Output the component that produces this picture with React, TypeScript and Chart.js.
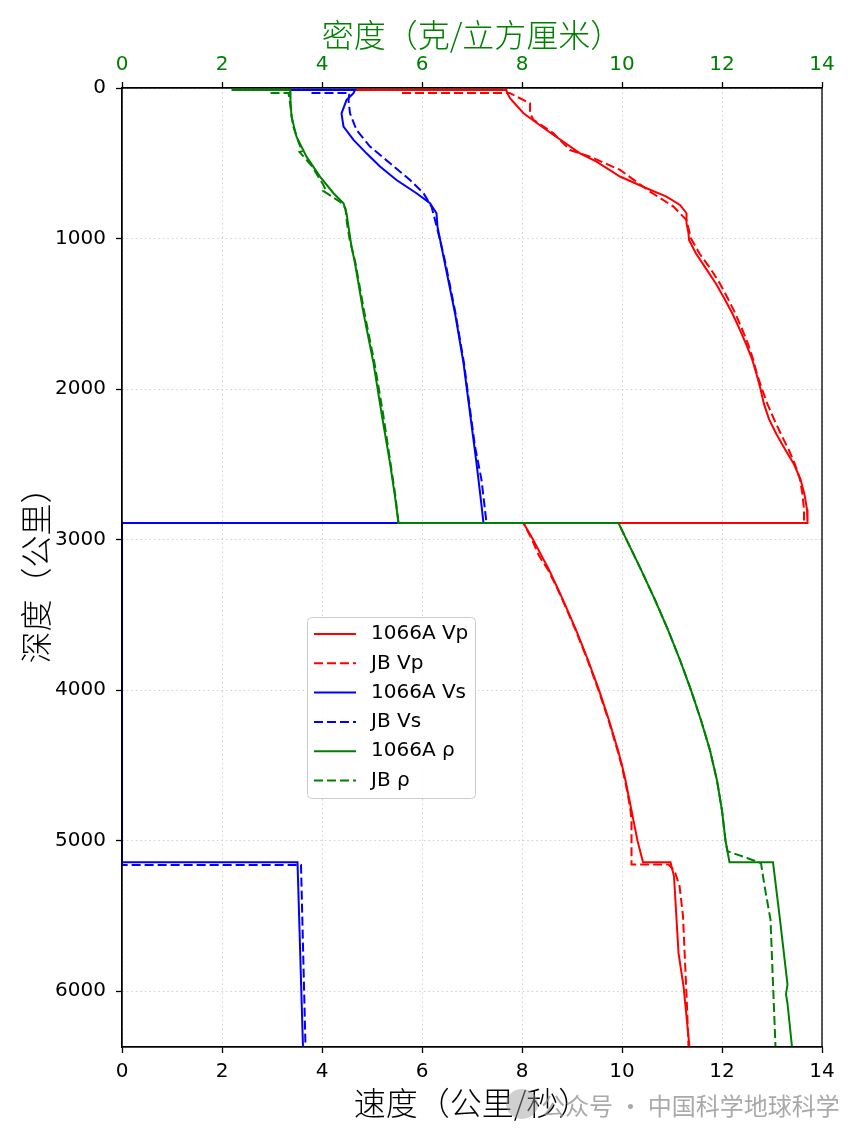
import React, { useEffect, useRef } from "react";
import { Chart, registerables } from "chart.js";

Chart.register(...registerables);

// depth in km (speed km/s, density g/cm3)
const vp1066Depth = [13, 13, 30, 68, 168, 279, 434, 489, 588, 666, 721, 777, 832, 898, 965, 1009, 1100, 1200, 1300, 1400, 1500, 1600, 1700, 1800, 1900, 2000, 2100, 2200, 2300, 2400, 2500, 2600, 2700, 2800, 2890, 2890, 3000, 3100, 3200, 3300, 3400, 3500, 3600, 3700, 3800, 3900, 4000, 4100, 4200, 4300, 4400, 4500, 4600, 4700, 4800, 4900, 5000, 5144, 5144, 5237, 5746, 5967, 6033, 6371];
const vp1066 = [4.66, 7.69, 7.70, 7.76, 8.03, 8.49, 9.16, 9.49, 9.96, 10.49, 10.89, 11.16, 11.29, 11.29, 11.33, 11.34, 11.48, 11.68, 11.88, 12.05, 12.21, 12.35, 12.48, 12.60, 12.69, 12.77, 12.84, 12.94, 13.09, 13.26, 13.44, 13.57, 13.65, 13.70, 13.71, 8.03, 8.22, 8.38, 8.54, 8.68, 8.82, 8.95, 9.08, 9.20, 9.32, 9.43, 9.54, 9.64, 9.74, 9.83, 9.92, 10.00, 10.07, 10.13, 10.19, 10.25, 10.31, 10.42, 10.97, 11.04, 11.13, 11.23, 11.25, 11.35];

const vpJBDepth = [33, 33, 102, 168, 212, 301, 412, 456, 544, 688, 788, 877, 1000, 1100, 1200, 1300, 1400, 1500, 1600, 1700, 1800, 1900, 2000, 2100, 2200, 2300, 2400, 2500, 2600, 2700, 2800, 2890, 2890, 3000, 3100, 3150, 3200, 3300, 3400, 3500, 3600, 3700, 3800, 3900, 4000, 4100, 4200, 4300, 4400, 4500, 4600, 4700, 4800, 4870, 5159, 5159, 5200, 5300, 5500, 5800, 6100, 6371];
const vpJB = [5.6, 7.75, 8.16, 8.16, 8.23, 8.63, 8.96, 9.36, 9.96, 10.56, 11.03, 11.29, 11.38, 11.55, 11.77, 11.96, 12.12, 12.27, 12.40, 12.52, 12.62, 12.70, 12.80, 12.91, 13.04, 13.18, 13.33, 13.46, 13.56, 13.61, 13.64, 13.64, 8.03, 8.20, 8.33, 8.42, 8.52, 8.67, 8.81, 8.94, 9.07, 9.19, 9.31, 9.42, 9.53, 9.63, 9.73, 9.82, 9.91, 9.99, 10.06, 10.12, 10.17, 10.19, 10.19, 10.93, 11.05, 11.15, 11.22, 11.26, 11.30, 11.33];

const vs1066Depth = [13, 13, 35, 80, 168, 257, 345, 434, 522, 611, 699, 766, 832, 921, 1120, 1496, 1828, 2160, 2492, 2714, 2890, 2890, 5144, 5144, 6371];
const vs1066 = [3.36, 4.66, 4.63, 4.49, 4.39, 4.43, 4.63, 4.89, 5.16, 5.49, 5.89, 6.16, 6.29, 6.31, 6.43, 6.66, 6.83, 6.96, 7.09, 7.17, 7.23, 0, 0, 3.51, 3.62];

const vsJBDepth = [33, 33, 80, 168, 279, 389, 500, 611, 699, 788, 877, 1009, 1164, 1496, 1828, 2160, 2381, 2603, 2890, 2890, 5162, 5162, 6371];
const vsJB = [3.79, 4.55, 4.53, 4.56, 4.69, 4.96, 5.36, 5.76, 6.03, 6.19, 6.26, 6.36, 6.47, 6.67, 6.84, 6.97, 7.06, 7.19, 7.29, 0, 0, 3.58, 3.67];

const rho1066Depth = [13, 13, 80, 190, 323, 456, 589, 699, 766, 832, 921, 1054, 1164, 1496, 1828, 2160, 2492, 2714, 2890, 2890, 3000, 3200, 3400, 3600, 3800, 4000, 4200, 4400, 4600, 4800, 5000, 5144, 5144, 5525, 5956, 6020, 6082, 6371];
const rho1066 = [2.19, 3.36, 3.37, 3.39, 3.49, 3.69, 3.96, 4.23, 4.43, 4.49, 4.53, 4.59, 4.66, 4.83, 5.03, 5.19, 5.36, 5.46, 5.53, 9.93, 10.09, 10.38, 10.66, 10.92, 11.16, 11.38, 11.58, 11.76, 11.90, 12.00, 12.07, 12.15, 13.02, 13.16, 13.31, 13.28, 13.31, 13.40];

const rhoJBDepth = [33, 33, 100, 250, 350, 420, 425, 520, 640, 680, 685, 760, 800, 900, 1000, 1164, 1496, 1828, 2160, 2492, 2714, 2890, 2890, 3000, 3200, 3400, 3600, 3800, 4000, 4200, 4400, 4600, 4800, 5000, 5071, 5115, 5150, 5300, 5525, 6371];
const rhoJB = [2.97, 3.33, 3.36, 3.42, 3.52, 3.60, 3.55, 3.80, 4.02, 4.08, 4.03, 4.38, 4.47, 4.50, 4.55, 4.67, 4.85, 5.05, 5.22, 5.37, 5.47, 5.53, 9.93, 10.09, 10.38, 10.66, 10.92, 11.16, 11.38, 11.58, 11.76, 11.90, 12.00, 12.07, 12.11, 12.50, 12.78, 12.85, 12.97, 13.07];

const seriesLabels = ["1066A Vp", "JB Vp", "1066A Vs", "JB Vs", "1066A ρ", "JB ρ"];
const seriesColors = ["#ff0000", "#ff0000", "#0000ff", "#0000ff", "#008000", "#008000"];

const speedTicks = [0, 2, 4, 6, 8, 10, 12, 14];
const densityTicks = [0, 2, 4, 6, 8, 10, 12, 14];
const depthTicks = [0, 1000, 2000, 3000, 4000, 5000, 6000];

const toPoints = (depths: number[], vals: number[]) =>
    depths.map((d, i) => ({ x: vals[i], y: d }));

const seriesData = [
    toPoints(vp1066Depth, vp1066),
    toPoints(vpJBDepth, vpJB),
    toPoints(vs1066Depth, vs1066),
    toPoints(vsJBDepth, vsJB),
    toPoints(rho1066Depth, rho1066),
    toPoints(rhoJBDepth, rhoJB),
];

const tickFont = { family: "DejaVu Sans", size: 20 };
const cjkFont = { family: "Noto Sans CJK SC", size: 32, weight: "300" };

// black box around the plot area (drawn over the lines, like matplotlib spines)
const framePlugin = {
    id: "frame",
    afterDatasetsDraw(chart: any) {
        const { ctx, chartArea } = chart;
        ctx.save();
        ctx.strokeStyle = "#000";
        ctx.lineWidth = 1.3;
        ctx.strokeRect(chartArea.left, chartArea.top, chartArea.right - chartArea.left, chartArea.bottom - chartArea.top);
        ctx.restore();
    },
};

// legend box inside the plot
const legendPlugin = {
    id: "boxLegend",
    afterDatasetsDraw(chart: any) {
        const { ctx, chartArea } = chart;
        const bx = chartArea.left + 185;
        const by = chartArea.top + 529;
        const bw = 168;
        const bh = 181;
        ctx.save();
        ctx.beginPath();
        ctx.roundRect(bx + 0.5, by + 0.5, bw, bh, 4);
        ctx.fillStyle = "rgba(255,255,255,0.85)";
        ctx.fill();
        ctx.strokeStyle = "#cccccc";
        ctx.lineWidth = 1;
        ctx.stroke();
        chart.data.datasets.forEach((ds: any, i: number) => {
            const y = by + 17 + i * 29.3;
            ctx.beginPath();
            ctx.setLineDash(ds.borderDash || []);
            ctx.strokeStyle = ds.borderColor;
            ctx.lineWidth = 2;
            ctx.moveTo(bx + 7, y);
            ctx.lineTo(bx + 49, y);
            ctx.stroke();
            ctx.setLineDash([]);
            ctx.fillStyle = "#000";
            ctx.font = '20px "DejaVu Sans"';
            ctx.textBaseline = "middle";
            ctx.textAlign = "left";
            ctx.fillText(ds.label, bx + 64, y);
        });
        ctx.restore();
    },
};

const plainTick = (v: any) => String(v);

const App: React.FC = () => {
    const chartRef = useRef<HTMLCanvasElement | null>(null);
    const chartInstanceRef = useRef<Chart | null>(null);

    useEffect(() => {
        if (!chartRef.current) return;
        const ctx = chartRef.current.getContext("2d");
        if (!ctx) return;

        if (chartInstanceRef.current) {
            chartInstanceRef.current.destroy();
        }

        const gridStyle = {
            color: "#d0d0d0",
            lineWidth: 1,
            tickColor: "#000",
            tickLength: 6,
            tickWidth: 1.3,
        };

        chartInstanceRef.current = new Chart(ctx, {
            type: "scatter",
            data: {
                datasets: seriesData.map((pts, i) => ({
                    label: seriesLabels[i],
                    data: pts,
                    showLine: true,
                    borderColor: seriesColors[i],
                    backgroundColor: seriesColors[i],
                    borderWidth: 2,
                    borderDash: i % 2 === 1 ? [9, 4] : [],
                    pointRadius: 0,
                    pointHoverRadius: 0,
                    tension: 0,
                    order: 5 - i,
                })),
            },
            options: {
                responsive: false,
                maintainAspectRatio: false,
                animation: false,
                layout: { padding: { left: 0, right: 34, top: 0, bottom: 0 } },
                plugins: {
                    legend: { display: false },
                    tooltip: { enabled: false },
                },
                scales: {
                    x: {
                        type: "linear",
                        position: "bottom",
                        min: 0,
                        max: 14,
                        afterBuildTicks: (s: any) => { s.ticks = speedTicks.map(v => ({ value: v })); },
                        afterFit: (s: any) => { s.height = 94; },
                        ticks: { color: "#000", font: tickFont, padding: 7, maxRotation: 0, callback: plainTick },
                        grid: gridStyle,
                        border: { display: true, color: "#000", width: 1.3, dash: [1.5, 3] },
                        title: {
                            display: true,
                            text: "速度（公里/秒）",
                            color: "#000",
                            font: cjkFont,
                            padding: { top: 0, bottom: 19 },
                        },
                    },
                    x2: {
                        type: "linear",
                        axis: "x",
                        position: "top",
                        min: 0,
                        max: 14,
                        afterBuildTicks: (s: any) => { s.ticks = densityTicks.map(v => ({ value: v })); },
                        afterFit: (s: any) => { s.height = 88; },
                        ticks: { color: "#008000", font: tickFont, padding: 5, maxRotation: 0, callback: plainTick },
                        grid: { ...gridStyle, drawOnChartArea: false },
                        border: { display: true, color: "#000", width: 1.3 },
                        title: {
                            display: true,
                            text: "密度（克/立方厘米）",
                            color: "#008000",
                            font: cjkFont,
                            padding: { top: 16, bottom: 0 },
                        },
                    },
                    y: {
                        type: "linear",
                        position: "left",
                        reverse: true,
                        min: 0,
                        max: 6371,
                        afterBuildTicks: (s: any) => { s.ticks = depthTicks.map(v => ({ value: v })); },
                        afterFit: (s: any) => { s.width = 122; },
                        ticks: { color: "#000", font: tickFont, padding: 10, callback: plainTick },
                        grid: gridStyle,
                        border: { display: true, color: "#000", width: 1.3, dash: [1.5, 3] },
                        title: {
                            display: true,
                            text: "深度（公里）",
                            color: "#000",
                            font: cjkFont,
                            padding: { top: 17, bottom: 0 },
                        },
                    },
                },
            },
            plugins: [framePlugin, legendPlugin],
        } as any);

        return () => {
            if (chartInstanceRef.current) {
                chartInstanceRef.current.destroy();
                chartInstanceRef.current = null;
            }
        };
    }, []);

    return (
        <div style={{ position: "absolute", left: 0, top: 0, width: 856, height: 1141, background: "#fff" }}>
            <canvas ref={chartRef} width={856} height={1141} style={{ width: 856, height: 1141 }}></canvas>
            <div
                style={{
                    position: "absolute",
                    left: 506,
                    top: 1089,
                    width: 32,
                    height: 30,
                    borderRadius: "50%",
                    background: "rgba(150,150,150,0.45)",
                }}
            />
            <span
                style={{
                    position: "absolute",
                    left: 541,
                    top: 1092,
                    fontFamily: '"Noto Sans CJK SC"',
                    fontSize: 24,
                    lineHeight: "26px",
                    color: "rgba(140,140,140,0.75)",
                    whiteSpace: "nowrap",
                }}
            >
                公众号 · 中国科学地球科学
            </span>
        </div>
    );
};

export default App;
